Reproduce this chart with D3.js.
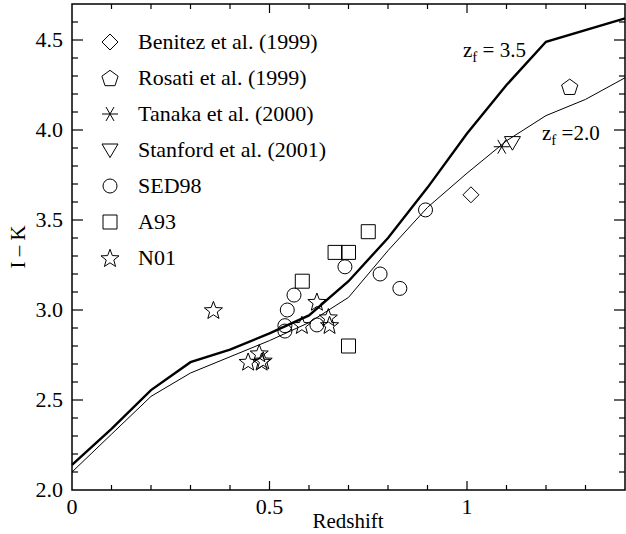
<!DOCTYPE html>
<html>
<head>
<meta charset="utf-8">
<script src="https://cdn.jsdelivr.net/npm/d3@7"></script>
<style>
body { margin: 0; background: #fff; }
</style>
</head>
<body>
<div id="chart"></div>
<script>
// model curves
var zf35 = [[0,2.14],[0.1,2.34],[0.2,2.555],[0.3,2.71],[0.4,2.78],[0.5,2.87],[0.6,2.97],
            [0.7,3.16],[0.8,3.40],[0.9,3.68],[1.0,3.98],[1.1,4.25],[1.2,4.49],[1.4,4.62]];
var zf20 = [[0,2.10],[0.1,2.31],[0.2,2.52],[0.3,2.65],[0.4,2.74],[0.5,2.83],[0.6,2.93],
            [0.7,3.07],[0.8,3.33],[0.9,3.57],[1.0,3.76],[1.1,3.94],[1.2,4.08],[1.3,4.17],[1.4,4.29]];

// observations
var benitez = [[1.01,3.64]];
var rosati = [[1.26,4.24]];
var tanaka = [[1.088,3.907]];
var stanford = [[1.115,3.93]];
var sed98 = [[0.691,3.24],[0.78,3.20],[0.83,3.12],[0.562,3.083],[0.545,3.0],
             [0.539,2.913],[0.539,2.883],[0.62,2.917],[0.895,3.556]];
var a93 = [[0.75,3.435],[0.666,3.32],[0.70,3.32],[0.583,3.16],[0.70,2.80]];
var n01 = [[0.358,3.0],[0.62,3.046],[0.582,2.917],[0.649,2.96],[0.652,2.917],
           [0.446,2.713],[0.474,2.76],[0.48,2.713],[0.484,2.72]];

var legendNames = ["Benitez et al. (1999)","Rosati et al. (1999)","Tanaka et al. (2000)",
                   "Stanford et al. (2001)","SED98","A93","N01"];
var legendSymbols = ["diamond","pentagon","asterisk","triangle","circle","square","star"];
var series = [benitez, rosati, tanaka, stanford, sed98, a93, n01];

var xMajor = [0, 0.5, 1], xLabels = ["0","0.5","1"];
var yMajor = [2.0, 2.5, 3.0, 3.5, 4.0, 4.5], yLabels = ["2.0","2.5","3.0","3.5","4.0","4.5"];

var width = 626, height = 534;
var margin = {left: 72, right: 1, top: 4, bottom: 44};
var serif = "'Liberation Serif', 'Times New Roman', Times, 'DejaVu Serif', serif";

var svg = d3.select("#chart").append("svg")
    .attr("width", width)
    .attr("height", height)
    .style("font-family", serif);

var x = d3.scaleLinear().domain([0, 1.4]).range([margin.left, width - margin.right]);
var y = d3.scaleLinear().domain([2.0, 4.7]).range([height - margin.bottom, margin.top]);

// symbol path generator, centred at 0,0
function symbolPath(type, s) {
    switch(type) {
    case "diamond":
	return "M0," + (-s) + "L" + s + ",0L0," + s + "L" + (-s) + ",0Z";
    case "pentagon":
	var p = d3.range(5).map(function(i) {
	    var a = -Math.PI/2 + i*2*Math.PI/5;
	    return [s*Math.cos(a), s*Math.sin(a) + 0.8];
	});
	return "M" + p.join("L") + "Z";
    case "triangle":
	return "M" + (-s) + "," + (-s*0.75) + "L" + s + "," + (-s*0.75) + "L0," + (s*0.95) + "Z";
    case "circle":
	return "M" + s + ",0A" + s + "," + s + " 0 1,1 " + (-s) + ",0A" + s + "," + s + " 0 1,1 " + s + ",0Z";
    case "square":
	return "M" + (-s) + "," + (-s) + "H" + s + "V" + s + "H" + (-s) + "Z";
    case "asterisk":
	var d = "M" + (-s) + ",0H" + s;
	[60, 120].forEach(function(deg) {
	    var a = deg*Math.PI/180;
	    d += "M" + (-s*Math.cos(a)) + "," + (-s*Math.sin(a)) + "L" + (s*Math.cos(a)) + "," + (s*Math.sin(a));
	});
	return d;
    case "star":
	var pts = d3.range(10).map(function(i) {
	    var r = i % 2 == 0 ? s : s*0.42;
	    var a = -Math.PI/2 + i*Math.PI/5;
	    return [r*Math.cos(a), r*Math.sin(a) + 0.8];
	});
	return "M" + pts.join("L") + "Z";
    }
}
var symbolSize = {diamond: 8, pentagon: 8.5, asterisk: 8, triangle: 8, circle: 7, square: 7, star: 9.5};

// frame
svg.append("rect")
    .attr("x", x(0)).attr("y", y(4.7))
    .attr("width", x(1.4) - x(0)).attr("height", y(2.0) - y(4.7))
    .attr("fill", "none").attr("stroke", "#000").attr("stroke-width", 1.5);

// ticks, all four sides, pointing inwards
var xMinor = d3.range(1, 14).map(function(i) { return i/10; });
var yMinor = d3.range(1, 27).map(function(i) { return 2 + i/10; });
var ticks = svg.append("g").attr("stroke", "#000").attr("stroke-width", 1.2);
xMinor.forEach(function(v) {
    var len = xMajor.indexOf(Math.round(v*10)/10) >= 0 ? 9 : 5;
    ticks.append("line").attr("x1", x(v)).attr("x2", x(v)).attr("y1", y(2.0)).attr("y2", y(2.0) - len);
    ticks.append("line").attr("x1", x(v)).attr("x2", x(v)).attr("y1", y(4.7)).attr("y2", y(4.7) + len);
});
yMinor.forEach(function(v) {
    var r = Math.round(v*10)/10;
    var len = yMajor.indexOf(r) >= 0 ? 11 : 6;
    ticks.append("line").attr("x1", x(0)).attr("x2", x(0) + len).attr("y1", y(v)).attr("y2", y(v));
    ticks.append("line").attr("x1", x(1.4)).attr("x2", x(1.4) - len).attr("y1", y(v)).attr("y2", y(v));
});

// tick labels
svg.selectAll(".xlab").data(xMajor).enter().append("text")
    .attr("x", function(d) { return x(d); })
    .attr("y", y(2.0) + 24)
    .attr("text-anchor", "middle")
    .attr("font-size", 22)
    .text(function(d, i) { return xLabels[i]; });
svg.selectAll(".ylab").data(yMajor).enter().append("text")
    .attr("x", x(0) - 9)
    .attr("y", function(d) { return y(d) + 7; })
    .attr("text-anchor", "end")
    .attr("font-size", 22)
    .text(function(d, i) { return yLabels[i]; });

// axis titles
svg.append("text")
    .attr("x", 348).attr("y", 528)
    .attr("text-anchor", "middle").attr("font-size", 21)
    .text("Redshift");
svg.append("text")
    .attr("transform", "translate(25,247) rotate(-90)")
    .attr("text-anchor", "middle").attr("font-size", 21)
    .text("I \u2013 K");

// model lines
var line = d3.line()
    .x(function(d) { return x(d[0]); })
    .y(function(d) { return y(d[1]); });
svg.append("path").attr("d", line(zf35))
    .attr("fill", "none").attr("stroke", "#000").attr("stroke-width", 2.4);
svg.append("path").attr("d", line(zf20))
    .attr("fill", "none").attr("stroke", "#000").attr("stroke-width", 1);

// curve labels
var lab1 = svg.append("text").attr("x", 463).attr("y", 57).attr("font-size", 21);
lab1.append("tspan").text("z");
lab1.append("tspan").attr("font-size", 15).attr("dy", 5).text("f");
lab1.append("tspan").attr("dy", -5).text(" = 3.5");
var lab2 = svg.append("text").attr("x", 542).attr("y", 140).attr("font-size", 21);
lab2.append("tspan").text("z");
lab2.append("tspan").attr("font-size", 15).attr("dy", 5).text("f");
lab2.append("tspan").attr("dy", -5).text(" =2.0");

// data points
series.forEach(function(pts, i) {
    var type = legendSymbols[i];
    svg.selectAll(".pt" + i).data(pts).enter().append("path")
	.attr("class", "pt" + i)
	.attr("transform", function(d) { return "translate(" + x(d[0]) + "," + y(d[1]) + ")"; })
	.attr("d", symbolPath(type, symbolSize[type]))
	.attr("fill", "none").attr("stroke", "#000").attr("stroke-width", 1);
});

// legend
var legend = svg.selectAll(".legend").data(legendNames).enter().append("g")
    .attr("class", "legend")
    .attr("transform", function(d, i) { return "translate(110," + (42 + i*36) + ")"; });
legend.append("path")
    .attr("d", function(d, i) { return symbolPath(legendSymbols[i], symbolSize[legendSymbols[i]]); })
    .attr("fill", "none").attr("stroke", "#000").attr("stroke-width", 1);
legend.append("text")
    .attr("x", 28).attr("y", 7)
    .attr("font-size", 22)
    .text(function(d) { return d; });
</script>
</body>
</html>
